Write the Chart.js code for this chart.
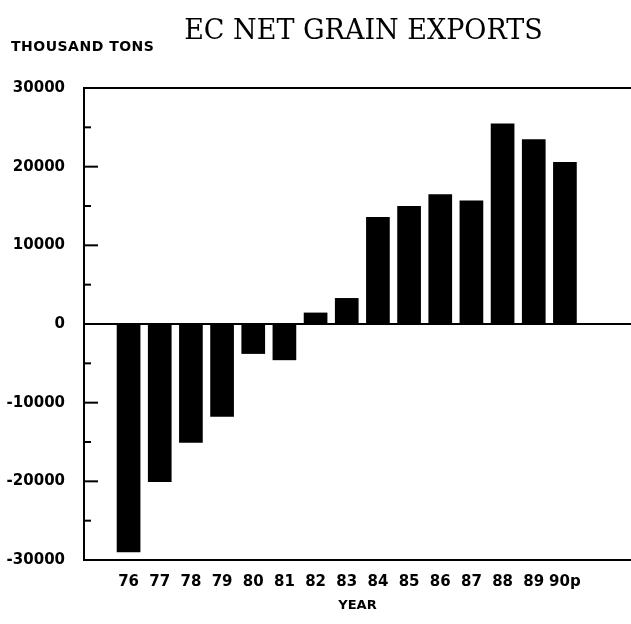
<!DOCTYPE html>
<html>
<head>
<meta charset="utf-8">
<script src="https://cdn.jsdelivr.net/npm/chart.js@4/dist/chart.umd.min.js"></script>
<style>
    html, body { margin: 0; padding: 0; background: #ffffff; }
    #wrap { width: 631px; height: 624px; position: relative; }
</style>
</head>
<body>
<div id="wrap"><canvas id="grainChart" width="631" height="624"></canvas></div>
<script>

const chartTitle = 'EC NET GRAIN EXPORTS';
const unitLabel = 'THOUSAND TONS';

const years = ['76', '77', '78', '79', '80', '81', '82', '83', '84', '85', '86', '87', '88', '89', '90p'];

const netExports = [-29000, -20100, -15100, -11800, -3800, -4600, 1450, 3300, 13600, 15000, 16500, 15700, 25500, 23500, 20600];

const yTicks = [-30000, -20000, -10000, 0, 10000, 20000, 30000];

const labelFont = { family: 'DejaVu Sans', size: 15, weight: 'bold' };

// draws the serif title, the unit label, the top frame line and the inward ticks
const framePlugin = {

    id: 'framePlugin',

    afterDraw(chart) {

        const ctx = chart.ctx;
        const area = chart.chartArea;
        const yScale = chart.scales.y;

        ctx.save();
        ctx.fillStyle = '#000';
        ctx.textBaseline = 'middle';

        ctx.font = '27px "DejaVu Serif"';
        ctx.textAlign = 'center';
        ctx.fillText(chartTitle, (area.left + area.right) / 2 + 6, 32);

        ctx.font = 'bold 14px "DejaVu Sans"';
        ctx.letterSpacing = '0.5px';
        ctx.textAlign = 'left';
        ctx.fillText(unitLabel, 11, 47);
        ctx.letterSpacing = '0px';

        ctx.strokeStyle = '#000';
        ctx.lineWidth = 2;

        ctx.beginPath();
        ctx.moveTo(area.left - 1, area.top);
        ctx.lineTo(area.right, area.top);
        ctx.stroke();

        yScale.ticks.forEach(t => {

            const py = yScale.getPixelForValue(t.value);
            const len = yTicks.includes(t.value) ? 14 : 7;

            ctx.beginPath();
            ctx.moveTo(area.left, py);
            ctx.lineTo(area.left + len, py);
            ctx.stroke();
        });

        ctx.restore();
    }
};

const canvas = document.getElementById('grainChart');

new Chart(
    canvas,
    {
        type: 'bar',

        data: {

            datasets: [{

                data: years.map((y, i) => ({ x: i, y: netExports[i] })),

                backgroundColor: '#000',

                borderWidth: 0,

                barPercentage: 0.76,

                categoryPercentage: 1
            }]
        },

        options: {

            responsive: false,

            animation: false,

            layout: {
                padding: { top: 88, right: 0, left: 0, bottom: 0 }
            },

            plugins: {
                legend: { display: false },
                tooltip: { enabled: false }
            },

            scales: {

                x: {

                    type: 'linear',

                    offset: false,

                    min: -1.43,

                    max: 16.12,

                    afterFit: scale => {
                        scale.height = 64;
                        scale.paddingLeft = 0;
                        scale.paddingRight = 0;
                    },

                    grid: { display: false, drawTicks: false },

                    border: { display: true, color: '#000', width: 2 },

                    ticks: {

                        stepSize: 1,

                        autoSkip: false,

                        maxRotation: 0,

                        padding: 13,

                        color: '#000',

                        font: labelFont,

                        callback: v => Number.isInteger(v) && years[v] ? years[v] : ''
                    },

                    title: {

                        display: true,

                        text: 'YEAR',

                        color: '#000',

                        font: { family: 'DejaVu Sans', size: 13, weight: 'bold' },

                        padding: { top: 0, bottom: 11 }
                    }
                },

                y: {

                    min: -30000,

                    max: 30000,

                    afterFit: scale => { scale.width = 84; },

                    grid: {

                        drawTicks: false,

                        lineWidth: 2,

                        color: c => c.tick && c.tick.value === 0 ? '#000' : 'rgba(0,0,0,0)'
                    },

                    border: { display: true, color: '#000', width: 2 },

                    ticks: {

                        stepSize: 5000,

                        padding: 19,

                        color: '#000',

                        font: labelFont,

                        callback: v => yTicks.includes(v) ? String(v) : ''
                    }
                }
            }
        },

        plugins: [framePlugin]
    }
);

</script>
</body>
</html>
